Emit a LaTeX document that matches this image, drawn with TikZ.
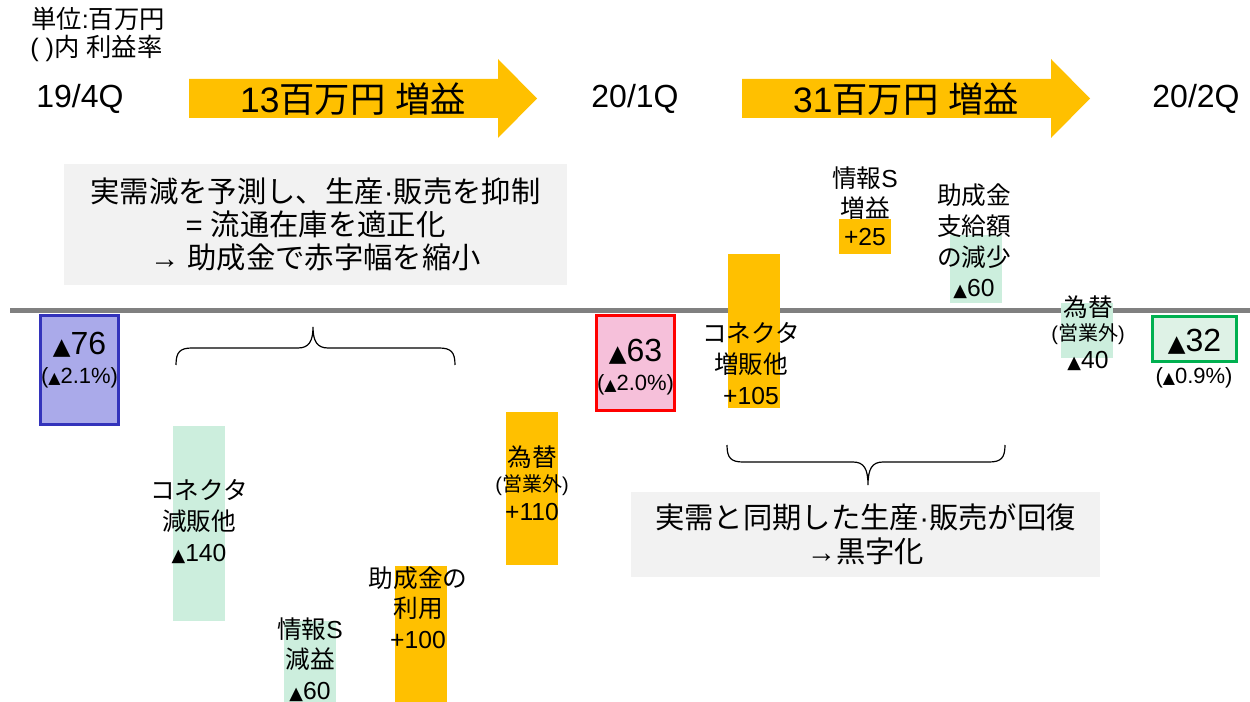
\documentclass[tikz,border=0pt]{standalone}
\usepackage{fontspec}
\setmainfont{Liberation Sans}
\newfontfamily\jp{Noto Sans CJK JP}
\newfontfamily\symf{DejaVu Sans}
\newcommand\J[1]{{\jp #1}}
\newcommand\tri{\scalebox{0.72}{\symf ▲}}
\newcommand\fs[2]{\fontsize{#1}{#2}\selectfont}
\definecolor{orng}{RGB}{255,192,0}
\definecolor{mint}{RGB}{204,238,221}
\definecolor{lav}{RGB}{170,170,234}
\definecolor{lavb}{RGB}{51,51,187}
\definecolor{pnk}{RGB}{246,192,218}
\definecolor{redb}{RGB}{255,0,0}
\definecolor{lgrn}{RGB}{222,242,230}
\definecolor{grnb}{RGB}{0,176,80}
\definecolor{lgry}{RGB}{242,242,242}
\definecolor{axisc}{RGB}{128,128,128}
\begin{document}
\begin{tikzpicture}[x=0.75pt,y=-0.75pt,
  bar/.style={inner sep=0pt, draw=none, minimum width=39pt},
  lbl/.style={align=center, inner sep=0pt, font=\fs{18.5}{23}},
  sml/.style={inner sep=0pt, font=\fs{15}{18}},
  big/.style={inner sep=0pt, font=\fs{24}{28}},
  pct/.style={inner sep=0pt, font=\fs{16.5}{20}},
  per/.style={inner sep=0pt, font=\fs{24}{28}},
  tot/.style={inner sep=0pt, line width=2.4pt},
  note/.style={fill=lgry, align=center, inner sep=0pt},
  brace/.style={line width=0.9pt, black}]
\useasboundingbox (0,0) rectangle (1250,702);

% header
\node[anchor=west, inner sep=0pt, font=\fs{19}{22}] (u1) at (31,19) {\J{単位}:\J{百万円}};
\node[anchor=west, inner sep=0pt, font=\fs{19}{22}] (u2) at (30,48) {( )\J{内} \J{利益率}};

% period labels
\node[per] (p1) at (80,99) {19/4Q};
\node[per] (p2) at (635,99) {20/1Q};
\node[per] (p3) at (1196,99) {20/2Q};

% arrows
\fill[orng] (189,79) -- (498,79) -- (498,59) -- (537,98.5) -- (498,138) -- (498,118) -- (189,118) -- cycle;
\fill[orng] (742,79) -- (1051,79) -- (1051,59) -- (1090,98.5) -- (1051,138) -- (1051,118) -- (742,118) -- cycle;
\node[inner sep=0pt, font=\fs{26.5}{30}] (a1) at (353,99) {13\J{百万円} \J{増益}};
\node[inner sep=0pt, font=\fs{26.5}{30}] (a2) at (906,99) {31\J{百万円} \J{増益}};

% axis
\coordinate (axL) at (10,311);
\coordinate (axR) at (1250,311);
\draw[axisc, line width=3.75pt] (axL) -- (axR);

% notes
\node[note, minimum width=377.25pt, minimum height=90.75pt, font=\fs{22}{25}] (m1) at (315.5,224.5)
  {\J{実需減を予測し、生産}·\J{販売を抑制}\\= \J{流通在庫を適正化}\\→ \J{助成金で赤字幅を縮小}};
\node[note, minimum width=351.75pt, minimum height=63.75pt, font=\fs{22}{25.5}] (m2) at (865.5,534.5)
  {\J{実需と同期した生産}·\J{販売が回復}\\→\J{黒字化}};

% totals
\node[tot, draw=lavb, fill=lav, minimum width=58.5pt, minimum height=81.75pt] (q1) at (79.5,370) {};
\node[big] (q1v) at (79.5,345) {\tri 76};
\node[pct] (q1p) at (79.5,378) {(\tri 2.1\%)};

\node[tot, draw=redb, fill=pnk, minimum width=58.5pt, minimum height=71.25pt] (q2) at (635.5,363) {};
\node[big] (q2v) at (635.5,352) {\tri 63};
\node[pct] (q2p) at (635.5,385) {(\tri 2.0\%)};

\node[tot, draw=grnb, fill=lgrn, minimum width=63pt, minimum height=33.75pt] (q3) at (1194.5,339) {};
\node[big] (q3v) at (1194.5,342) {\tri 32};
\node[pct] (q3p) at (1194,378) {(\tri 0.9\%)};

% bars left
\node[bar, fill=mint, minimum height=146.25pt] (g1) at (199,523.5) {};
\node[lbl] (g1t) at (199,521.5) {\J{コネクタ}\\\J{減販他}\\\tri 140};

\node[bar, fill=mint, minimum height=60.75pt] (g2) at (310,661.5) {};
\node[lbl] (g2t) at (310,659.5) {\J{情報}S\\\J{減益}\\\tri 60};

\node[bar, fill=orng, minimum height=102pt] (o1) at (421,634) {};
\node[lbl] (o1t) at (418,607.5) {\J{助成金の}\\\J{利用}\\+100};

\node[bar, fill=orng, minimum height=114.75pt] (o2) at (532,488.5) {};
\node[lbl] (o2a) at (532,457) {\J{為替}};
\node[sml] (o2b) at (532,485) {(\J{営業外})};
\node[lbl] (o2c) at (532,512) {+110};

% bars right
\node[bar, fill=orng, minimum height=115.5pt] (o3) at (754,331) {};
\node[lbl] (o3t) at (751,363.5) {\J{コネクタ}\\\J{増販他}\\+105};

\node[bar, fill=orng, minimum height=26.25pt] (o4) at (865,236.5) {};
\node[lbl] (o4t) at (865,193) {\J{情報}S\\\J{増益}};
\node[lbl] (o4v) at (865,237) {+25};

\node[bar, fill=mint, minimum height=51pt] (g3) at (976,269) {};
\node[lbl] (g3t) at (974,241.5) {\J{助成金}\\\J{支給額}\\\J{の減少}\\\tri 60};

\node[bar, fill=mint, minimum height=41.25pt] (g4) at (1087,330.5) {};
\node[lbl] (g4a) at (1088,307) {\J{為替}};
\node[sml] (g4b) at (1088,334) {(\J{営業外})};
\node[lbl] (g4c) at (1088,361) {\tri 40};

% braces
\draw[brace] (176,365) .. controls (176,352) and (180,348) .. (192,348) -- (298,348)
  .. controls (309,348) and (313,341) .. (313,327)
  .. controls (313,341) and (317,348) .. (328,348) -- (439,348)
  .. controls (451,348) and (455,352) .. (455,365);
\draw[brace] (727,445) .. controls (727,458) and (731,462) .. (743,462) -- (853,462)
  .. controls (864,462) and (868,469) .. (868,485)
  .. controls (868,469) and (872,462) .. (883,462) -- (989,462)
  .. controls (1001,462) and (1005,458) .. (1005,445);
\end{tikzpicture}
\end{document}
